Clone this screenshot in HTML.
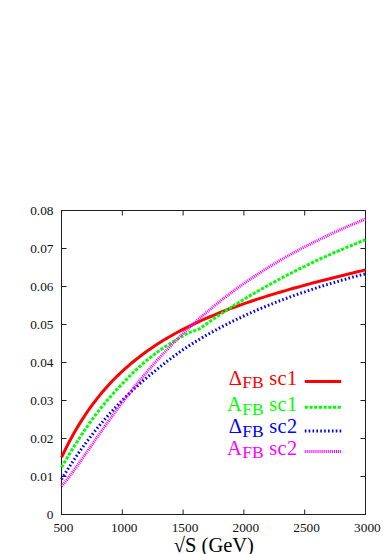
<!DOCTYPE html>
<html><head><meta charset="utf-8"><title>chart</title>
<style>
html,body{margin:0;padding:0;background:#fff;}
body{width:388px;height:554px;overflow:hidden;font-family:"Liberation Serif",serif;}
svg{display:block}
text{font-family:"Liberation Serif",serif;}
</style></head><body>
<svg width="388" height="554" viewBox="0 0 388 554">
<rect x="0" y="0" width="388" height="554" fill="#ffffff"/>

<g stroke="#1e1e1e" stroke-width="1" fill="none">
<rect x="61.5" y="210.5" width="304.0" height="304.0"/>
<path d="M61.5,476.5h5 M365.5,476.5h-5"/>
<path d="M61.5,438.5h5 M365.5,438.5h-5"/>
<path d="M61.5,400.5h5 M365.5,400.5h-5"/>
<path d="M61.5,362.5h5 M365.5,362.5h-5"/>
<path d="M61.5,324.5h5 M365.5,324.5h-5"/>
<path d="M61.5,286.5h5 M365.5,286.5h-5"/>
<path d="M61.5,248.5h5 M365.5,248.5h-5"/>
<path d="M122.3,514.5v-5 M122.3,210.5v5"/>
<path d="M183.1,514.5v-5 M183.1,210.5v5"/>
<path d="M243.9,514.5v-5 M243.9,210.5v5"/>
<path d="M304.7,514.5v-5 M304.7,210.5v5"/>
</g>
<g fill="none" stroke-width="3" stroke-linejoin="round">
<path d="M61.5,457.4 L65.5,449.1 L69.5,441.3 L73.5,434.0 L77.5,427.1 L81.5,420.6 L85.5,414.5 L89.5,408.7 L93.5,403.2 L97.5,398.1 L101.5,393.1 L105.5,388.5 L109.5,384.1 L113.5,379.8 L117.5,375.8 L121.5,372.0 L125.5,368.3 L129.5,364.8 L133.5,361.5 L137.5,358.3 L141.5,355.2 L145.5,352.3 L149.5,349.4 L153.5,346.7 L157.5,344.1 L161.5,341.6 L165.5,339.1 L169.5,336.8 L173.5,334.5 L177.5,332.3 L181.5,330.2 L185.5,328.1 L189.5,326.1 L193.5,324.2 L197.5,322.3 L201.5,320.5 L205.5,318.7 L209.5,317.0 L213.5,315.3 L217.5,313.6 L221.5,312.0 L225.5,310.5 L229.5,308.9 L233.5,307.5 L237.5,306.0 L241.5,304.6 L245.5,303.2 L249.5,301.8 L253.5,300.5 L257.5,299.1 L261.5,297.9 L265.5,296.6 L269.5,295.3 L273.5,294.1 L277.5,292.9 L281.5,291.7 L285.5,290.6 L289.5,289.4 L293.5,288.3 L297.5,287.2 L301.5,286.1 L305.5,285.0 L309.5,283.9 L313.5,282.8 L317.5,281.8 L321.5,280.7 L325.5,279.7 L329.5,278.7 L333.5,277.7 L337.5,276.7 L341.5,275.7 L345.5,274.7 L349.5,273.7 L353.5,272.8 L357.5,271.8 L361.5,270.9 L365.5,269.9" stroke="#ff0000"/>
<path d="M61.5,467.4 L65.5,460.6 L69.5,453.9 L73.5,447.4 L77.5,441.1 L81.5,434.9 L85.5,428.9 L89.5,423.2 L93.5,417.7 L97.5,412.4 L101.5,407.3 L105.5,402.4 L109.5,397.7 L113.5,393.2 L117.5,388.8 L121.5,384.6 L125.5,380.4 L129.5,376.3 L133.5,372.3 L137.5,368.5 L141.5,364.9 L145.5,361.4 L149.5,358.2 L153.5,355.0 L157.5,352.0 L161.5,349.2 L165.5,346.5 L169.5,343.9 L173.5,341.4 L177.5,339.0 L181.5,336.7 L185.5,334.5 L189.4,332.5 L199.4,328.9 L203.4,326.0 L207.4,323.2 L211.4,320.4 L215.4,317.7 L219.4,315.0 L223.4,312.3 L227.4,309.7 L231.4,307.2 L235.4,304.6 L239.4,302.2 L243.4,299.7 L247.4,297.3 L251.4,294.9 L255.4,292.6 L259.4,290.3 L263.4,288.0 L267.4,285.8 L271.4,283.6 L275.4,281.4 L279.4,279.2 L283.4,277.1 L287.4,275.0 L291.4,273.0 L295.4,270.9 L299.4,268.9 L303.4,267.0 L307.4,265.0 L311.4,263.1 L315.4,261.2 L319.4,259.3 L323.4,257.5 L327.4,255.7 L331.4,253.9 L335.4,252.2 L339.4,250.5 L343.4,248.8 L347.4,247.1 L351.4,245.5 L355.4,243.8 L359.4,242.2 L363.4,240.6 L365.5,239.7" stroke="#00ff00" stroke-dasharray="3.1 1.6"/>
<path d="M61.5,479.2 L65.5,472.8 L69.5,466.6 L73.5,460.5 L77.5,454.6 L81.5,448.9 L85.5,443.4 L89.5,438.1 L93.5,432.9 L97.5,427.9 L101.5,423.1 L105.5,418.4 L109.5,413.9 L113.5,409.5 L117.5,405.2 L121.5,401.1 L125.5,397.1 L129.5,393.2 L133.5,389.4 L137.5,385.8 L141.5,382.2 L145.5,378.8 L149.5,375.4 L153.5,372.2 L157.5,368.9 L161.5,365.7 L165.5,362.5 L169.5,359.5 L173.5,356.5 L177.5,353.6 L181.5,350.7 L185.5,348.0 L189.5,345.4 L193.5,342.9 L197.5,340.5 L201.5,338.1 L205.5,335.7 L209.5,333.5 L213.5,331.3 L217.5,329.1 L221.5,327.0 L225.5,324.9 L229.5,322.9 L233.5,320.9 L237.5,319.0 L241.5,317.1 L245.5,315.2 L249.5,313.4 L253.5,311.6 L257.5,309.9 L261.5,308.2 L265.5,306.5 L269.5,304.9 L273.5,303.3 L277.5,301.7 L281.5,300.2 L285.5,298.7 L289.5,297.2 L293.5,295.7 L297.5,294.3 L301.5,292.9 L305.5,291.6 L309.5,290.2 L313.5,288.9 L317.5,287.6 L321.5,286.3 L325.5,285.1 L329.5,283.9 L333.5,282.7 L337.5,281.5 L341.5,280.3 L345.5,279.2 L349.5,278.0 L353.5,276.9 L357.5,275.9 L361.5,274.8 L365.5,273.8" stroke="#0000ff" stroke-dasharray="1.6 2.27"/>
<path d="M61.5,486.3 L65.5,481.6 L69.5,476.4 L73.5,471.0 L77.5,465.5 L81.5,459.8 L85.5,454.0 L89.5,448.3 L93.5,442.5 L97.5,436.7 L101.5,431.0 L105.5,425.4 L109.5,419.8 L113.5,414.3 L117.5,408.9 L121.5,403.5 L125.5,398.3 L129.5,393.2 L133.5,388.1 L137.5,383.2 L141.5,378.3 L145.5,373.6 L149.5,368.9 L153.5,364.4 L157.5,359.9 L161.5,355.6 L165.5,351.3 L169.5,347.1 L173.5,343.0 L177.5,339.0 L181.5,335.1 L185.5,331.2 L189.5,327.5 L193.5,323.8 L197.5,320.2 L201.5,316.7 L205.5,313.2 L209.5,309.9 L213.5,306.5 L217.5,303.3 L221.5,300.1 L225.5,297.0 L229.5,294.0 L233.5,291.0 L237.5,288.1 L241.5,285.2 L245.5,282.4 L249.5,279.7 L253.5,277.0 L257.5,274.3 L261.5,271.8 L265.5,269.2 L269.5,266.7 L273.5,264.3 L277.5,261.9 L281.5,259.6 L285.5,257.3 L289.5,255.0 L293.5,252.8 L297.5,250.7 L301.5,248.5 L305.5,246.5 L309.5,244.4 L313.5,242.4 L317.5,240.5 L321.5,238.5 L325.5,236.6 L329.5,234.7 L333.5,232.8 L337.5,231.0 L341.5,229.2 L345.5,227.4 L349.5,225.6 L353.5,223.9 L357.5,222.3 L361.5,220.6 L365.5,219.1" stroke="#ff00ff" stroke-dasharray="1 0.95"/>
</g>
<g font-size="13.3" fill="#111">
<text x="53.5" y="519.3" text-anchor="end">0</text>
<text x="53.5" y="481.3" text-anchor="end">0.01</text>
<text x="53.5" y="443.3" text-anchor="end">0.02</text>
<text x="53.5" y="405.3" text-anchor="end">0.03</text>
<text x="53.5" y="367.3" text-anchor="end">0.04</text>
<text x="53.5" y="329.3" text-anchor="end">0.05</text>
<text x="53.5" y="291.3" text-anchor="end">0.06</text>
<text x="53.5" y="253.3" text-anchor="end">0.07</text>
<text x="53.5" y="215.3" text-anchor="end">0.08</text>
<text x="63.4" y="532.1" text-anchor="middle">500</text>
<text x="124.2" y="532.1" text-anchor="middle">1000</text>
<text x="185.0" y="532.1" text-anchor="middle">1500</text>
<text x="245.8" y="532.1" text-anchor="middle">2000</text>
<text x="306.6" y="532.1" text-anchor="middle">2500</text>
<text x="367.4" y="532.1" text-anchor="middle">3000</text>
</g>
<text x="173.8" y="551.8" font-size="20.5" fill="#000">√S (GeV)</text>
<g fill="#ff0000"><text x="241.9" y="384.7" font-size="20.6" text-anchor="end">Δ</text><text x="242.3" y="388.4" font-size="17.5">FB</text><text x="269.2" y="384.7" font-size="20.3" letter-spacing="0.4">sc1</text></g>
<path d="M304.8,381.5H341.2" stroke="#ff0000" stroke-width="3" fill="none"/>
<g fill="#00ff00"><text x="241.9" y="410.9" font-size="20.6" text-anchor="end">A</text><text x="242.3" y="414.6" font-size="17.5">FB</text><text x="269.2" y="410.9" font-size="20.3" letter-spacing="0.4">sc1</text></g>
<path d="M304.8,407.2H341.2" stroke="#00ff00" stroke-width="3" fill="none" stroke-dasharray="3.1 1.6"/>
<g fill="#0000ff"><text x="241.9" y="433.3" font-size="20.6" text-anchor="end">Δ</text><text x="242.3" y="437.0" font-size="17.5">FB</text><text x="269.2" y="433.3" font-size="20.3" letter-spacing="0.4">sc2</text></g>
<path d="M304.8,430.9H341.2" stroke="#0000ff" stroke-width="3" fill="none" stroke-dasharray="1.6 2.27"/>
<g fill="#ff00ff"><text x="241.9" y="454.6" font-size="20.6" text-anchor="end">A</text><text x="242.3" y="458.3" font-size="17.5">FB</text><text x="269.2" y="454.6" font-size="20.3" letter-spacing="0.4">sc2</text></g>
<path d="M304.8,451.5H341.2" stroke="#ff00ff" stroke-width="3" fill="none" stroke-dasharray="1 0.95"/>
</svg></body></html>
